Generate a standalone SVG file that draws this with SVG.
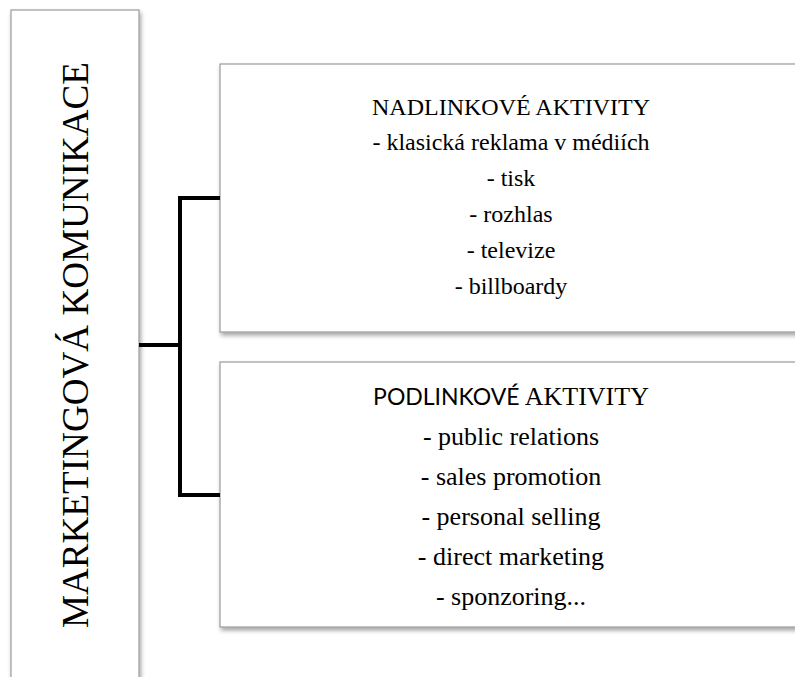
<svg xmlns="http://www.w3.org/2000/svg" width="795" height="677" viewBox="0 0 795 677">
<style>
.box{fill:#ffffff;stroke:#9a9a9a;stroke-width:1.2;filter:url(#sh)}
.serif{font-family:"Liberation Serif","Times New Roman",serif;fill:#000}
.sans{font-family:Lato,"Open Sans","Liberation Sans",sans-serif;font-size:23px}
.t1{font-size:24px;text-anchor:middle}
.t2{font-size:26px;text-anchor:middle}
.conn{fill:none;stroke:#000;stroke-width:4;stroke-linejoin:miter}
</style>
<defs>
<filter id="sh" x="-10%" y="-10%" width="130%" height="130%">
<feDropShadow dx="1.5" dy="3" stdDeviation="2" flood-color="#000" flood-opacity="0.35"/>
</filter>
</defs>
<rect width="795" height="677" fill="#ffffff"/>
<g id="node-marketing">
<rect class="box" x="11" y="10" width="128" height="690"/>
<text class="serif" font-size="38" text-anchor="middle" textLength="566" lengthAdjust="spacingAndGlyphs" transform="translate(88,345) rotate(-90)">MARKETINGOVÁ KOMUNIKACE</text>
</g>
<g id="node-nadlinkove">
<rect class="box" x="220" y="64" width="585" height="268"/>
<text class="serif t1" x="511" y="115">NADLINKOVÉ AKTIVITY</text>
<text class="serif t1" x="511" y="150">- klasická reklama v médiích</text>
<text class="serif t1" x="511" y="186">- tisk</text>
<text class="serif t1" x="511" y="222">- rozhlas</text>
<text class="serif t1" x="511" y="258">- televize</text>
<text class="serif t1" x="511" y="294">- billboardy</text>
</g>
<g id="node-podlinkove">
<rect class="box" x="220" y="362" width="585" height="265"/>
<text class="serif t2" x="511" y="405"><tspan class="sans">PODLINKOVÉ</tspan> AKTIVITY</text>
<text class="serif t2" x="511" y="445">- public relations</text>
<text class="serif t2" x="511" y="485">- sales promotion</text>
<text class="serif t2" x="511" y="525">- personal selling</text>
<text class="serif t2" x="511" y="565">- direct marketing</text>
<text class="serif t2" x="511" y="605">- sponzoring...</text>
</g>
<g id="connectors">
<path class="conn" d="M139,345 H180"/>
<path class="conn" d="M220,198 H180 V495 H220"/>
</g>
</svg>
